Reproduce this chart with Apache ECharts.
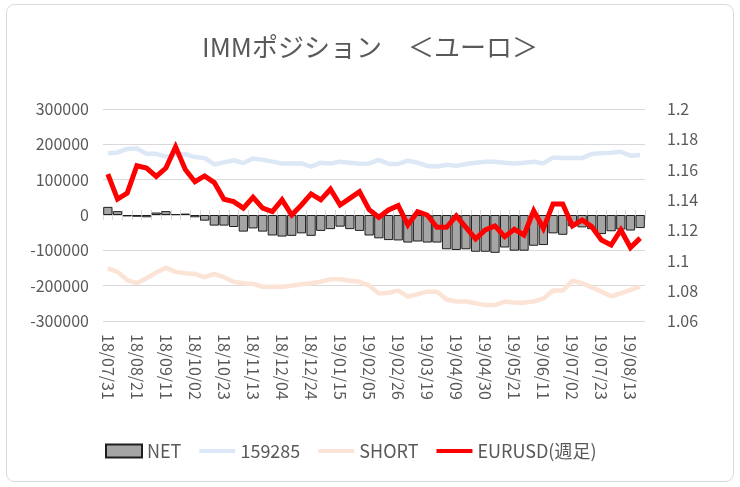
<!DOCTYPE html>
<html>
<head>
<meta charset="utf-8">
<script src="https://cdn.jsdelivr.net/npm/echarts@6/dist/echarts.min.js"></script>
<style>
html,body{margin:0;padding:0;background:#fff;}
#c{width:740px;height:487px;}
</style>
</head>
<body>
<div id="c"></div>
<script>
const categories = [
  '18/07/31','18/08/07','18/08/14','18/08/21','18/08/28','18/09/04','18/09/11','18/09/18',
  '18/09/25','18/10/02','18/10/09','18/10/16','18/10/23','18/10/30','18/11/06','18/11/13',
  '18/11/20','18/11/27','18/12/04','18/12/11','18/12/18','18/12/24','18/12/31','19/01/08',
  '19/01/15','19/01/22','19/01/29','19/02/05','19/02/12','19/02/19','19/02/26','19/03/05',
  '19/03/12','19/03/19','19/03/26','19/04/02','19/04/09','19/04/16','19/04/23','19/04/30',
  '19/05/07','19/05/14','19/05/21','19/05/28','19/06/04','19/06/11','19/06/18','19/06/25',
  '19/07/02','19/07/09','19/07/16','19/07/23','19/07/30','19/08/06','19/08/13','19/08/20'
];
const netValues = [
  23000, 11000, -4000, -5000, -6500, 7000, 11000, 2500,
  4000, -6500, -16000, -30000, -30000, -34000, -47000, -38000,
  -47000, -58000, -61000, -59000, -52000, -59000, -45000, -40000,
  -33000, -40000, -45000, -58000, -66000, -71000, -72000, -78000,
  -75000, -78000, -78000, -97000, -99000, -97000, -104000, -104000,
  -107000, -92000, -101000, -101000, -87000, -85000, -52000, -56000,
  -32000, -35000, -40000, -54000, -46000, -41000, -44000, -37000
];
const longValues = [
  175000, 177000, 187000, 188000, 173000, 173000, 165000, 170000,
  172000, 164000, 161000, 143000, 149000, 155000, 147000, 160000,
  156000, 151000, 146000, 146000, 146000, 137000, 148000, 146000,
  151000, 148000, 145000, 146000, 156000, 144500, 144500, 154000,
  148000, 139000, 137000, 142000, 139000, 144500, 148000, 151000,
  151000, 148000, 146000, 148000, 151000, 146000, 163000, 161000,
  161000, 161000, 173000, 175000, 176000, 179000, 168000, 170000
];
const shortValues = [
  -151000, -161000, -184000, -193000, -179000, -163000, -149000, -161000,
  -165000, -167000, -176000, -167000, -176000, -189000, -193000, -195000,
  -203000, -203000, -203000, -200000, -196000, -193000, -189000, -182000,
  -182000, -186000, -189000, -200000, -222000, -220000, -214000, -231000,
  -224000, -217000, -217000, -239000, -245000, -245000, -250000, -255000,
  -255000, -245000, -248000, -248000, -245000, -236000, -214000, -214000,
  -186000, -193000, -205000, -217000, -230000, -222000, -212000, -203000
];
const eurusdValues = [
  1.157, 1.1405, 1.1445, 1.1625, 1.161, 1.1555, 1.161, 1.175,
  1.160, 1.152, 1.1558, 1.1514, 1.1404, 1.1388, 1.1345, 1.1417,
  1.1345, 1.1322, 1.140, 1.130, 1.1366, 1.1439, 1.140, 1.147,
  1.1366, 1.141, 1.1454, 1.1335, 1.1285, 1.1333, 1.1362, 1.1234,
  1.1322, 1.130, 1.1219, 1.1219, 1.1294, 1.1219, 1.1142, 1.1201,
  1.1228, 1.1157, 1.1206, 1.1168, 1.1327, 1.1212, 1.1373, 1.1373,
  1.1228, 1.1267, 1.1223, 1.1135, 1.1102, 1.1201, 1.1085, 1.1147
];
const leftTicks = { min: -300000, max: 300000, interval: 100000 };
const rightTicks = { min: 1.06, max: 1.2, interval: 0.02 };
const seriesNames = ['NET', '159285', 'SHORT', 'EURUSD(週足)'];
const titleText = 'IMMポジション　＜ユーロ＞';

const FONT = '"Noto Sans CJK JP", "Noto Sans", sans-serif';
const TXT = '#595959';
const GRID = '#d9d9d9';
const linePath = 'path://M0,0H38V4H0Z';

const chart = echarts.init(document.getElementById('c'), null, { renderer: 'canvas' });
const catAxisBase = { type: 'category', data: categories, gridIndex: 0, position: 'bottom', boundaryGap: true };
chart.setOption({
  animation: false,
  backgroundColor: '#ffffff',
  textStyle: { fontFamily: FONT },
  title: {
    text: titleText, left: 'center', top: 29,
    textStyle: { fontFamily: FONT, fontSize: 26, fontWeight: 'normal', color: TXT }
  },
  graphic: [{
    type: 'rect', silent: true, z: -1,
    shape: { x: 6.5, y: 4.5, width: 727, height: 477, r: 8 },
    style: { fill: 'none', stroke: GRID, lineWidth: 1 }
  }],
  legend: {
    left: 100, top: 437, itemWidth: 36, itemHeight: 13, itemGap: 18,
    textStyle: { fontFamily: FONT, fontSize: 18, color: TXT },
    data: [
      { name: seriesNames[0], icon: 'rect' },
      { name: seriesNames[1], icon: linePath, itemStyle: { borderWidth: 0 } },
      { name: seriesNames[2], icon: linePath, itemStyle: { borderWidth: 0 } },
      { name: seriesNames[3], icon: linePath, itemStyle: { borderWidth: 0 } }
    ]
  },
  grid: { left: 103, right: 95, top: 109, bottom: 166, containLabel: false },
  xAxis: [
    Object.assign({}, catAxisBase, {
      axisLine: { show: true, onZero: true, onZeroAxisIndex: 0, lineStyle: { color: GRID, width: 1 } },
      axisTick: { show: true, interval: 0, inside: true, length: 5, lineStyle: { color: GRID } },
      axisLabel: { show: false }, splitLine: { show: false }
    }),
    Object.assign({}, catAxisBase, {
      axisLine: { show: false, onZero: true, onZeroAxisIndex: 0 },
      axisTick: { show: true, interval: 0, inside: false, length: 5, lineStyle: { color: GRID } },
      axisLabel: { show: false }, splitLine: { show: false }
    }),
    Object.assign({}, catAxisBase, {
      axisLine: { show: false, onZero: false },
      axisTick: { show: false },
      axisLabel: { show: true, interval: 2, rotate: -90, margin: 13, fontSize: 16, color: TXT, fontFamily: FONT },
      splitLine: { show: false }
    })
  ],
  yAxis: [
    {
      type: 'value', position: 'left', min: leftTicks.min, max: leftTicks.max, interval: leftTicks.interval,
      axisLine: { show: false }, axisTick: { show: false },
      axisLabel: { fontSize: 16, color: TXT, margin: 14, fontFamily: FONT, formatter: function (v) { return String(v); } },
      splitLine: { show: true, lineStyle: { color: GRID, width: 1 } }
    },
    {
      type: 'value', position: 'right', min: rightTicks.min, max: rightTicks.max, interval: rightTicks.interval,
      axisLine: { show: false }, axisTick: { show: false },
      axisLabel: { fontSize: 16, color: TXT, margin: 22, fontFamily: FONT, formatter: function (v) { return String(Math.round(v * 100) / 100); } },
      splitLine: { show: false }
    }
  ],
  series: [
    {
      name: seriesNames[0], type: 'bar', xAxisIndex: 0, yAxisIndex: 0, data: netValues,
      barCategoryGap: '4%', z: 2,
      itemStyle: { color: '#a5a5a5', borderColor: '#1f1f1f', borderWidth: 1 }
    },
    {
      name: seriesNames[1], type: 'line', xAxisIndex: 0, yAxisIndex: 0, data: longValues,
      symbol: 'none', z: 3, color: '#dce8f5',
      lineStyle: { color: '#dce8f5', width: 4.5 }
    },
    {
      name: seriesNames[2], type: 'line', xAxisIndex: 0, yAxisIndex: 0, data: shortValues,
      symbol: 'none', z: 3, color: '#fbe3d6',
      lineStyle: { color: '#fbe3d6', width: 4.5 }
    },
    {
      name: seriesNames[3], type: 'line', xAxisIndex: 0, yAxisIndex: 1, data: eurusdValues,
      symbol: 'none', z: 4, color: '#ff0000',
      lineStyle: { color: '#ff0000', width: 5, join: 'miter' }
    }
  ]
});
</script>
</body>
</html>
